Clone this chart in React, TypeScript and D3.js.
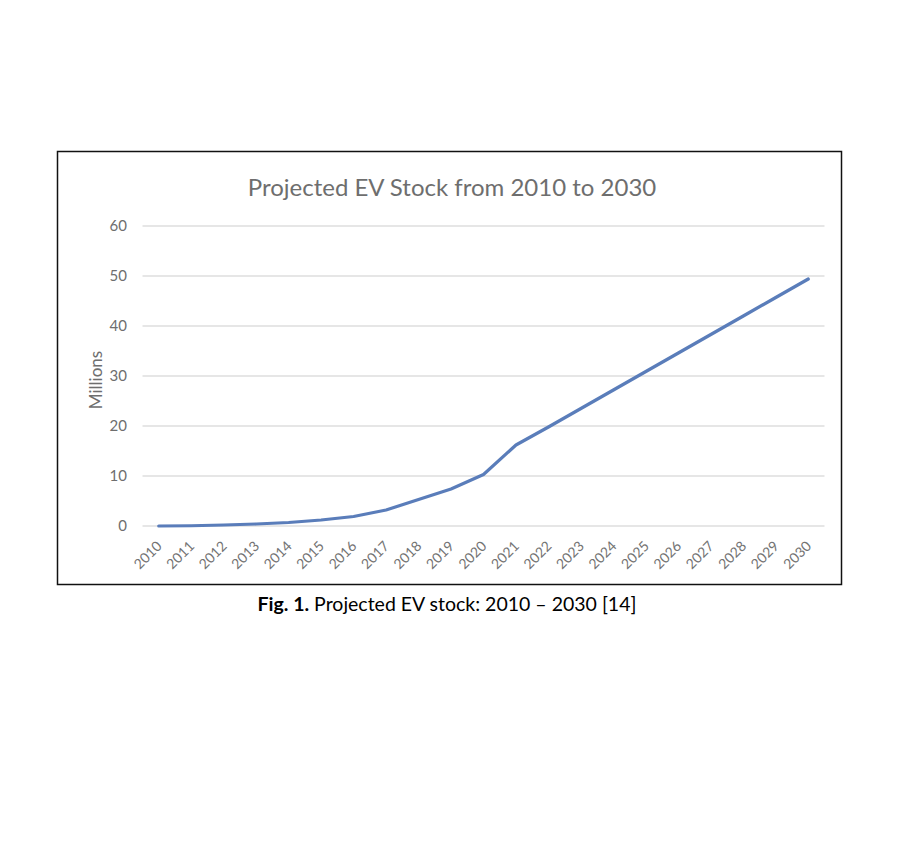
import React from "react";
import * as d3 from "d3";

const years: string[] = [
  "2010", "2011", "2012", "2013", "2014", "2015", "2016", "2017", "2018", "2019", "2020",
  "2021", "2022", "2023", "2024", "2025", "2026", "2027", "2028", "2029", "2030",
];
const evStock: number[] = [
  0, 0.05, 0.2, 0.4, 0.7, 1.2, 1.9, 3.2, 5.3, 7.4, 10.3,
  16.2, 19.8, 23.5, 27.2, 30.9, 34.6, 38.3, 42.0, 45.7, 49.4,
];
const yTicks: number[] = [0, 10, 20, 30, 40, 50, 60];
const titleText = "Projected EV Stock from 2010 to 2030";
const yAxisLabel = "Millions";

const W = 906;
const H = 856;
const plotLeft = 142.5;
const plotRight = 824.5;
const plotTop = 226;
const plotBottom = 526;
const FONT = "Lato, 'Open Sans', sans-serif";

export default function App() {
  const x = d3.scaleBand<string>().domain(years).range([plotLeft, plotRight]).padding(0);
  const y = d3.scaleLinear().domain([0, 60]).range([plotBottom, plotTop]);
  const cx = (d: string) => (x(d) as number) + x.bandwidth() / 2;

  const line = d3
    .line<number>()
    .x((_, i) => cx(years[i]))
    .y((v) => y(v))
    .curve(d3.curveLinear);

  return (
    <svg
      width={W}
      height={H}
      style={{ position: "absolute", left: 0, top: 0, background: "#fff" }}
    >
      <rect x={0} y={0} width={W} height={H} fill="#fff" />
      <rect x={57.5} y={151.5} width={784} height={433} fill="#fff" stroke="#111" strokeWidth={1.5} />

      <text x={452} y={196} textAnchor="middle" fontFamily={FONT} fontSize={24} fill="#6e6e6e">
        {titleText}
      </text>

      {yTicks.map((t) => (
        <g key={t}>
          <line x1={plotLeft} x2={plotRight} y1={y(t)} y2={y(t)} stroke="#dedede" strokeWidth={1.5} />
          <text
            x={127}
            y={y(t)}
            dy="0.36em"
            textAnchor="end"
            fontFamily={FONT}
            fontSize={15}
            fill="#6e6e6e"
          >
            {t}
          </text>
        </g>
      ))}

      <text
        transform={`translate(102,${(plotTop + plotBottom) / 2 + 4}) rotate(-90)`}
        textAnchor="middle"
        fontFamily={FONT}
        fontSize={17}
        fill="#6e6e6e"
      >
        {yAxisLabel}
      </text>

      {years.map((yr) => (
        <text
          key={yr}
          transform={`translate(${cx(yr) + 4},${plotBottom + 21}) rotate(-45)`}
          textAnchor="end"
          fontFamily={FONT}
          fontSize={14}
          fill="#737373"
        >
          {yr}
        </text>
      ))}

      <path
        d={line(evStock) ?? ""}
        fill="none"
        stroke="#5a7dba"
        strokeWidth={3.2}
        strokeLinejoin="round"
        strokeLinecap="round"
      />

      <text x={447} y={611} textAnchor="middle" fontFamily={FONT} fontSize={19.5} fill="#000">
        <tspan fontWeight="bold">Fig. 1.</tspan>
        <tspan> Projected EV stock: 2010 – 2030 [14]</tspan>
      </text>
    </svg>
  );
}
